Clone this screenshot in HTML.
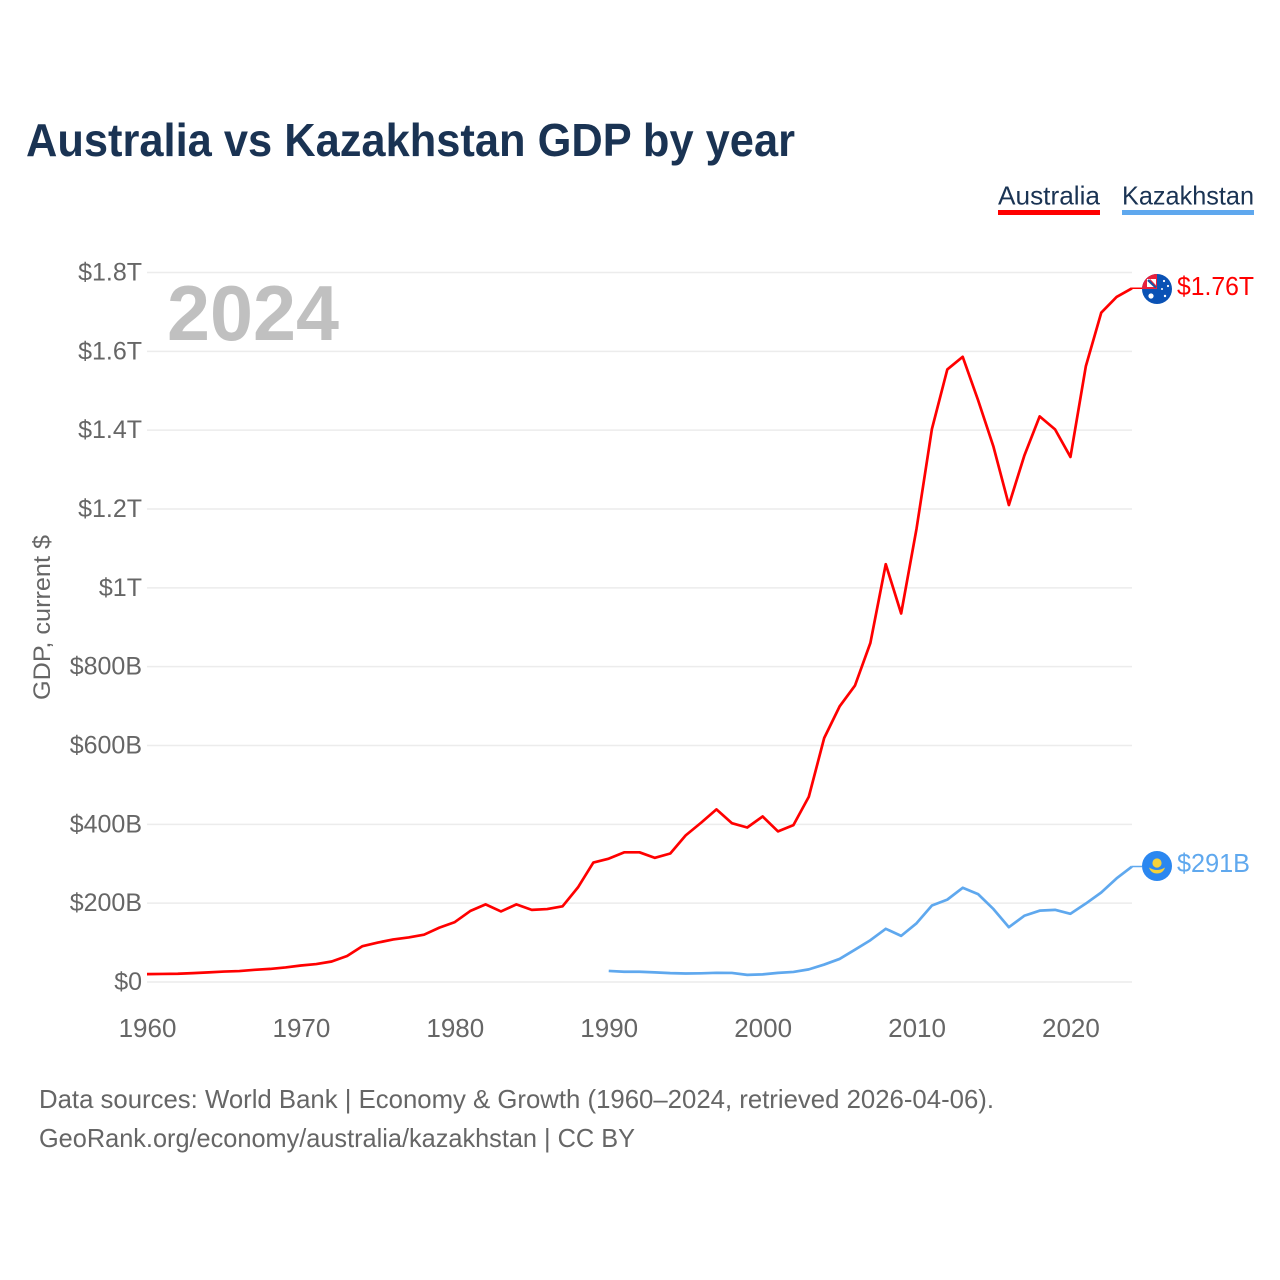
<!DOCTYPE html>
<html lang="en">
<head>
<meta charset="utf-8">
<title>Australia vs Kazakhstan GDP by year</title>
<style>
html,body{margin:0;padding:0;background:#fff;width:1280px;height:1280px;overflow:hidden}
svg{display:block}
text{font-family:"Liberation Sans",sans-serif}
</style>
</head>
<body>
<svg id="chart" width="1280" height="1280" viewBox="0 0 1280 1280" xmlns="http://www.w3.org/2000/svg">
<rect width="1280" height="1280" fill="#fff"/>
<text x="26" y="156" font-size="46" font-weight="700" fill="#1a3353" textLength="769" lengthAdjust="spacingAndGlyphs">Australia vs Kazakhstan GDP by year</text>

<g>
<g>
<text x="998" y="204.5" font-size="26" fill="#1a3353" textLength="102" lengthAdjust="spacingAndGlyphs">Australia</text>
<rect x="998" y="210" width="102" height="5" fill="#ff0000"/>
</g>
<g>
<text x="1122" y="204.5" font-size="26" fill="#1a3353" textLength="132" lengthAdjust="spacingAndGlyphs">Kazakhstan</text>
<rect x="1122" y="210" width="132" height="5" fill="#5fa8ee"/>
</g>
</g>

<g id="grid"></g>
<g id="yticks"></g>
<g id="xticks"></g>

<text x="167" y="340" font-size="78" font-weight="700" fill="#c0c0c0" textLength="172" lengthAdjust="spacingAndGlyphs">2024</text>
<text transform="translate(50,700) rotate(-90)" font-size="24" fill="#666" textLength="165" lengthAdjust="spacingAndGlyphs">GDP, current $</text>

<g id="series"></g>

<g>
<clipPath id="au-clip"><circle cx="1157" cy="289" r="15"/></clipPath>
<g clip-path="url(#au-clip)">
<rect x="1142" y="274" width="30" height="30" fill="#0a52b5"/>
<rect x="1142" y="274" width="15" height="15" fill="#e8203c"/>
<rect x="1147" y="279" width="9" height="8" fill="#fff"/>
<path d="M1148 280L1156 287.5" stroke="#1a4fa0" stroke-width="2.4"/>
<path d="M1150 279.5L1156 286" stroke="#e8203c" stroke-width="1"/>
<circle cx="1151" cy="296" r="2.6" fill="#fff"/>
<circle cx="1164" cy="281" r="1.1" fill="#fff"/>
<circle cx="1168" cy="286" r="1.1" fill="#fff"/>
<circle cx="1162" cy="289" r="1" fill="#fff"/>
<circle cx="1165" cy="296" r="1.2" fill="#fff"/>
</g>
</g>
<text x="1177" y="295" font-size="26" fill="#ff0000" textLength="77" lengthAdjust="spacingAndGlyphs">$1.76T</text>

<g>
<circle cx="1157" cy="866" r="15" fill="#2b87f0"/>
<circle cx="1157" cy="863" r="4.6" fill="#f6d13a"/>
<path d="M1149 867.5Q1153 870 1157 870Q1161 870 1165 867.5Q1163 873.5 1157 873.5Q1151 873.5 1149 867.5Z" fill="#f6d13a"/>
</g>
<text x="1177" y="872" font-size="26" fill="#5fa8ee" textLength="73" lengthAdjust="spacingAndGlyphs">$291B</text>

<text x="39" y="1108" font-size="26" fill="#666" textLength="955" lengthAdjust="spacingAndGlyphs">Data sources: World Bank | Economy &amp; Growth (1960–2024, retrieved 2026-04-06).</text>
<text x="39" y="1147" font-size="26" fill="#666" textLength="596" lengthAdjust="spacingAndGlyphs">GeoRank.org/economy/australia/kazakhstan | CC BY</text>
</svg>
<script>
const auYears = [1960,1961,1962,1963,1964,1965,1966,1967,1968,1969,1970,1971,1972,1973,1974,1975,1976,1977,1978,1979,1980,1981,1982,1983,1984,1985,1986,1987,1988,1989,1990,1991,1992,1993,1994,1995,1996,1997,1998,1999,2000,2001,2002,2003,2004,2005,2006,2007,2008,2009,2010,2011,2012,2013,2014,2015,2016,2017,2018,2019,2020,2021,2022,2023,2024];
const auGdp = [20,20.5,21,22.5,24.5,26.5,27.8,30.9,33.2,37,41.8,45.5,52,66,91,100,108,113,120,138,152,180,197,179,197,183,185,192,240,303,313,329,329,315,326,372,404,438,403,392,420,382,398,470,619,699,752,860,1060,935,1150,1403,1554,1586,1476,1358,1210,1335,1435,1402,1332,1562,1698,1738,1760];
const kzYears = [1990,1991,1992,1993,1994,1995,1996,1997,1998,1999,2000,2001,2002,2003,2004,2005,2006,2007,2008,2009,2010,2011,2012,2013,2014,2015,2016,2017,2018,2019,2020,2021,2022,2023,2024];
const kzGdp = [28,26,26,24.5,22.5,21.5,22,23.3,23,18,19.3,23.2,25.6,32,44.2,58.5,82,106,135,117,149,194,209,239,223,185,139,168,181,183,173,199,227,263,293];
const yTickValues = [0,200,400,600,800,1000,1200,1400,1600,1800];
const yTickLabels = ["$0","$200B","$400B","$600B","$800B","$1T","$1.2T","$1.4T","$1.6T","$1.8T"];
const xTickYears = [1960,1970,1980,1990,2000,2010,2020];

const NS = "http://www.w3.org/2000/svg";
const xMin = 1960, xMax = 2024, yMax = 1800;
const plotLeft = 147, plotRight = 1132, plotBottom = 982, plotTop = 272.5;
function xScale(year){ return plotLeft + (year - xMin) * (plotRight - plotLeft) / (xMax - xMin); }
function yScale(v){ return plotBottom - v * (plotBottom - plotTop) / yMax; }
function mk(tag, attrs, parent){
  const el = document.createElementNS(NS, tag);
  for (const k in attrs) el.setAttribute(k, attrs[k]);
  parent.appendChild(el);
  return el;
}
const grid = document.getElementById("grid");
const yticks = document.getElementById("yticks");
const xticks = document.getElementById("xticks");
const series = document.getElementById("series");

yTickValues.forEach(function(v, i){
  const line = mk("line", {x1: plotLeft, x2: plotRight, y1: yScale(v), y2: yScale(v), stroke: "#ececec", "stroke-width": 1.5}, grid);
  
  
  const t = mk("text", {x: 142, y: yScale(v) + 8, "text-anchor": "end", "font-size": 25, fill: "#666"}, yticks);
  
  
  t.textContent = yTickLabels[i];
});

xTickYears.forEach(function(year){
  const t = mk("text", {x: xScale(year) + 0.5, y: 1037, "text-anchor": "middle", "font-size": 26, fill: "#666"}, xticks);
  
  
  t.textContent = year;
});

function linePath(years, vals){
  return years.map(function(yr, i){ return (i ? "L" : "M") + xScale(yr).toFixed(2) + " " + yScale(vals[i]).toFixed(2); }).join("");
}
const auLine = mk("path", {d: linePath(auYears, auGdp), fill: "none", stroke: "#ff0000", "stroke-width": 2.7, "stroke-linejoin": "round"}, series);


const kzLine = mk("path", {d: linePath(kzYears, kzGdp), fill: "none", stroke: "#5fa8ee", "stroke-width": 2.7, "stroke-linejoin": "round"}, series);



const auLead = mk("line", {x1: xScale(2024), x2: 1142, y1: yScale(auGdp[auGdp.length - 1]), y2: yScale(auGdp[auGdp.length - 1]), stroke: "#ff0000", "stroke-width": 1.5}, series);


const kzLead = mk("line", {x1: xScale(2024), x2: 1142, y1: yScale(kzGdp[kzGdp.length - 1]), y2: yScale(kzGdp[kzGdp.length - 1]), stroke: "#5fa8ee", "stroke-width": 1.5}, series);


</script>
</body>
</html>
